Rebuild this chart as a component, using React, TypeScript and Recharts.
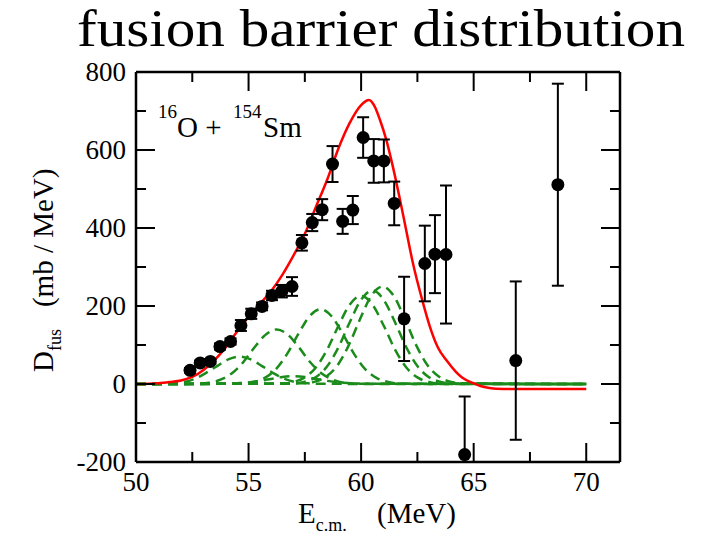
import React from 'react';
import { ComposedChart, Line, Scatter, XAxis, YAxis, ErrorBar } from 'recharts';

const FONT = '"Liberation Serif", "Times New Roman", serif';

// axis ticks
const xTicks = [50, 52.5, 55, 57.5, 60, 62.5, 65, 67.5, 70];
const xLabels = [50, 55, 60, 65, 70];
const yTicks = [-200, -100, 0, 100, 200, 300, 400, 500, 600, 700, 800];
const yLabels = [-200, 0, 200, 400, 600, 800];

// experimental points
const expE = [52.4, 52.85, 53.3, 53.73, 54.2, 54.66, 55.12, 55.6, 56.04, 56.48, 56.93, 57.37, 57.83, 58.27, 58.73, 59.18, 59.63, 60.09, 60.56, 61.01, 61.47, 61.91, 62.83, 63.28, 63.77, 64.6, 66.87, 68.74];
const expD = [35, 54, 58, 96, 109, 150, 180, 199, 227, 238, 250, 362, 414, 447, 564, 417, 446, 632, 572, 572, 463, 167, 309, 333, 332, -181, 60, 511];
const expErr = [6, 6, 6, 8, 8, 14, 13, 10, 12, 16, 24, 20, 22, 27, 46, 32, 36, 52, 56, 55, 56, 108, 97, 100, 177, 149, 203, 259];

// theory (red)
const theory: [number, number][] = [
  [50, 0], [51, 2], [51.5, 5], [52, 9], [52.5, 18], [53, 36], [53.5, 62], [54, 95], [54.5, 135], [55, 172],
  [55.5, 205], [56, 238], [56.5, 280], [57, 330], [57.5, 385], [58, 455], [58.5, 525], [59, 605], [59.5, 670],
  [60, 715], [60.35, 728], [60.6, 712], [60.85, 675], [61.1, 630], [61.4, 560], [61.7, 480], [62, 395],
  [62.3, 310], [62.75, 208], [63.05, 148], [63.4, 95], [63.8, 60], [64.2, 32], [64.5, 16], [65, 2],
  [65.3, -5], [65.7, -10], [66, -12], [67, -13], [70, -13],
];

// eigen-barrier components (green dashed)
const compA: [number, number][] = [[50, 0], [51.1, 0.4], [51.6, 2], [52.1, 5], [52.6, 13], [53.1, 28], [53.6, 46], [54.1, 63], [54.6, 70], [55.1, 63], [55.6, 46], [56.1, 28], [56.6, 13], [57.1, 5], [57.6, 2], [58.1, 0.4], [70, 0]];
const compB: [number, number][] = [[50, 0], [52.75, 1], [53.25, 3], [53.75, 11], [54.25, 27], [54.75, 55], [55.25, 93], [55.75, 126], [56.25, 140], [56.75, 126], [57.25, 93], [57.75, 55], [58.25, 27], [58.75, 11], [59.25, 3], [59.75, 1], [70, 0]];
const compC: [number, number][] = [[50, 0], [54.7, 1], [55.2, 5], [55.7, 15], [56.2, 37], [56.7, 76], [57.2, 127], [57.7, 173], [58.2, 192], [58.7, 173], [59.2, 127], [59.7, 76], [60.2, 37], [60.7, 15], [61.2, 5], [61.7, 1], [70, 0]];
const compD: [number, number][] = [[50, 0], [56.5, 1], [57, 5], [57.5, 17], [58, 43], [58.5, 89], [59, 150], [59.5, 204], [60, 226], [60.5, 204], [61, 150], [61.5, 89], [62, 43], [62.5, 17], [63, 5], [63.5, 1], [70, 0]];
const compE: [number, number][] = [[50, 0], [57, 1], [57.5, 6], [58, 18], [58.5, 46], [59, 95], [59.5, 159], [60, 216], [60.5, 240], [61, 216], [61.5, 159], [62, 95], [62.5, 46], [63, 18], [63.5, 6], [64, 1], [70, 0]];
const compF: [number, number][] = [[50, 0], [57.45, 2], [57.95, 6], [58.45, 19], [58.95, 48], [59.45, 99], [59.95, 166], [60.45, 226], [60.95, 250], [61.45, 226], [61.95, 166], [62.45, 99], [62.95, 48], [63.45, 19], [63.95, 6], [64.45, 2], [70, 0]];
const compG: [number, number][] = [[50, 0], [54, 0.5], [54.5, 2], [55, 4], [55.5, 8], [56, 13], [56.5, 18], [57, 20], [57.5, 18], [58, 13], [58.5, 8], [59, 4], [59.5, 2], [60, 0.5], [70, 0]];

const components = [compA, compB, compC, compD, compE, compF, compG];

const rows = (pairs: [number, number][]) => pairs.map(([x, y]) => ({ x, y }));
const expRows = expE.map((x, i) => ({ x, y: expD[i], err: expErr[i] }));

const GREEN = '#1b8c1b';
const MAJOR = 19;
const MINOR = 10;

const BottomTick = (p: any) => {
  const v = p.payload.value;
  const major = xLabels.includes(v);
  return (
    <g>
      <line x1={p.x} x2={p.x} y1={p.y} y2={p.y - (major ? MAJOR : MINOR)} stroke="#000" strokeWidth={2} />
      {major && (
        <text x={p.x} y={p.y + 29} textAnchor="middle" fontSize={27} fontFamily={FONT} fill="#000">{v}</text>
      )}
    </g>
  );
};

const TopTick = (p: any) => {
  const v = p.payload.value;
  const major = xLabels.includes(v);
  return <line x1={p.x} x2={p.x} y1={p.y} y2={p.y + (major ? MAJOR : MINOR)} stroke="#000" strokeWidth={2} />;
};

const LeftTick = (p: any) => {
  const v = p.payload.value;
  const major = yLabels.includes(v);
  return (
    <g>
      <line x1={p.x} x2={p.x + (major ? MAJOR : MINOR)} y1={p.y} y2={p.y} stroke="#000" strokeWidth={2} />
      {major && (
        <text x={p.x - 10} y={p.y + 9} textAnchor="end" fontSize={27} fontFamily={FONT} fill="#000">{v}</text>
      )}
    </g>
  );
};

const RightTick = (p: any) => {
  const v = p.payload.value;
  const major = yLabels.includes(v);
  return <line x1={p.x} x2={p.x - (major ? MAJOR : MINOR)} y1={p.y} y2={p.y} stroke="#000" strokeWidth={2} />;
};

const Dot = (p: any) => <circle cx={p.cx} cy={p.cy} r={6.5} fill="#000" />;

const axisLine = { stroke: '#000', strokeWidth: 2.5 };

export default function App() {
  return (
    <div style={{ position: 'absolute', left: 0, top: 0, width: 711, height: 535, background: '#fff' }}>
      <style>{'.recharts-errorBar, .recharts-errorBars { clip-path: url(#plotClip); }'}</style>
      <svg width={0} height={0} style={{ position: 'absolute' }}>
        <defs>
          <clipPath id="plotClip" clipPathUnits="userSpaceOnUse">
            <rect x={136} y={72} width={484} height={390} />
          </clipPath>
        </defs>
      </svg>
      <ComposedChart width={711} height={535} margin={{ top: 62, right: 81, bottom: 33, left: 76 }}>
        <XAxis xAxisId="b" type="number" dataKey="x" domain={[50, 71.5]} ticks={xTicks} interval={0}
          allowDataOverflow orientation="bottom" height={40} axisLine={axisLine} tickLine={false}
          tickSize={0} tickMargin={0} tick={(p: any) => <BottomTick {...p} />} />
        <XAxis xAxisId="t" type="number" dataKey="x" domain={[50, 71.5]} ticks={xTicks} interval={0}
          allowDataOverflow orientation="top" height={10} axisLine={axisLine} tickLine={false}
          tickSize={0} tickMargin={0} tick={(p: any) => <TopTick {...p} />} />
        <YAxis yAxisId="l" type="number" domain={[-200, 800]} ticks={yTicks} interval={0}
          allowDataOverflow orientation="left" width={60} axisLine={axisLine} tickLine={false}
          tickSize={0} tickMargin={0} tick={(p: any) => <LeftTick {...p} />} />
        <YAxis yAxisId="r" type="number" domain={[-200, 800]} ticks={yTicks} interval={0}
          allowDataOverflow orientation="right" width={10} axisLine={axisLine} tickLine={false}
          tickSize={0} tickMargin={0} tick={(p: any) => <RightTick {...p} />} />
        {components.map((c, i) => (
          <Line key={i} xAxisId="b" yAxisId="l" data={rows(c)} dataKey="y" type="monotone"
            stroke={GREEN} strokeWidth={2.5} strokeDasharray="10 6" dot={false} isAnimationActive={false} />
        ))}
        <Line xAxisId="b" yAxisId="l" data={rows(theory)} dataKey="y" type="monotone"
          stroke="#ff0000" strokeWidth={2.5} dot={false} isAnimationActive={false} />
        <Scatter xAxisId="b" yAxisId="l" data={expRows} dataKey="y" shape={(p: any) => <Dot {...p} />}
          isAnimationActive={false}>
          <ErrorBar dataKey="err" direction="y" width={6} stroke="#000" strokeWidth={2} />
        </Scatter>
      </ComposedChart>
      <svg width={711} height={535} style={{ position: 'absolute', left: 0, top: 0, pointerEvents: 'none' }}>
        <text x={77} y={46} fontSize={52} fontFamily={FONT} textLength={608} lengthAdjust="spacingAndGlyphs" fill="#000">
          fusion barrier distribution
        </text>
        <text transform="translate(53,372) rotate(-90)" fontSize={29} fontFamily={FONT} fill="#000">
          D<tspan fontSize={18} dy={8}>fus</tspan>
          <tspan dy={-8} dx={22}>(mb / MeV)</tspan>
        </text>
        <text x={298} y={523} fontSize={29} fontFamily={FONT} fill="#000">
          E<tspan fontSize={18} dy={8}>c.m.</tspan>
        </text>
        <text x={377} y={523} fontSize={29} fontFamily={FONT} fill="#000">(MeV)</text>
        <text x={158} y={118} fontSize={19} fontFamily={FONT} fill="#000">16</text>
        <text x={177} y={137} fontSize={29} fontFamily={FONT} fill="#000">O +</text>
        <text x={233} y={118} fontSize={19} fontFamily={FONT} fill="#000">154</text>
        <text x={263} y={137} fontSize={29} fontFamily={FONT} fill="#000">Sm</text>
      </svg>
    </div>
  );
}
